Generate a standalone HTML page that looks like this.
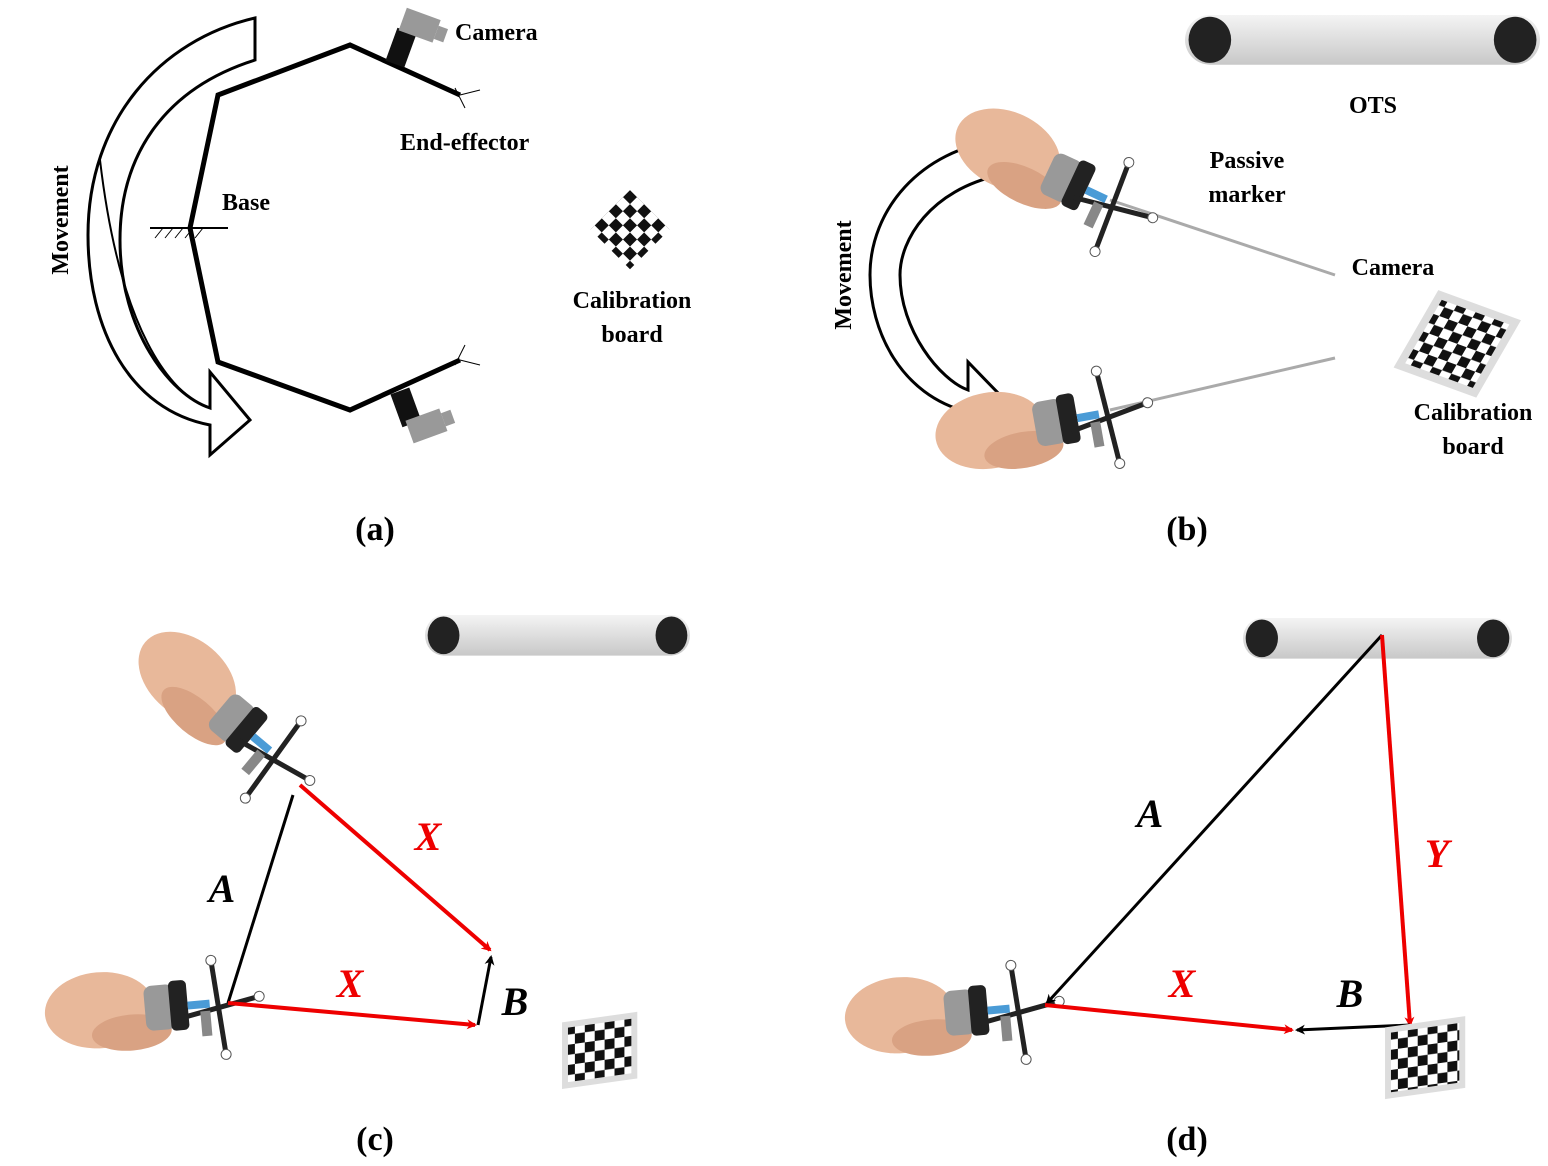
<!DOCTYPE html>
<html><head><meta charset="utf-8"><style>
html,body{margin:0;padding:0;background:#fff;}
svg{display:block;}
text{font-family:"Liberation Serif",serif;font-weight:bold;}
</style></head><body>
<svg width="1548" height="1166" viewBox="0 0 1548 1166" xmlns="http://www.w3.org/2000/svg">
<defs>
<pattern id="chk" width="20" height="20" patternUnits="userSpaceOnUse">
<rect width="20" height="20" fill="#fff"/><rect width="10" height="10" fill="#111"/><rect x="10" y="10" width="10" height="10" fill="#111"/>
</pattern>
<linearGradient id="og" x1="0" y1="0" x2="0" y2="1"><stop offset="0" stop-color="#f4f4f4"/><stop offset="1" stop-color="#c8c8c8"/></linearGradient>
<marker id="ab" markerWidth="10" markerHeight="10" refX="8" refY="5" orient="auto" markerUnits="userSpaceOnUse"><path d="M0,0 L10,5 L0,10 L3,5z" fill="#000"/></marker>
<marker id="ar" markerWidth="10" markerHeight="10" refX="8" refY="5" orient="auto" markerUnits="userSpaceOnUse"><path d="M0,0 L10,5 L0,10 L3,5z" fill="#e00"/></marker>
<g id="ots">
<rect x="0" y="0" width="100" height="14" rx="7" fill="url(#og)"/>
<ellipse cx="7" cy="7" rx="6" ry="6.5" fill="#222"/>
<ellipse cx="93" cy="7" rx="6" ry="6.5" fill="#222"/>
</g>
<g id="tool">
<ellipse cx="-60" cy="-5" rx="55" ry="38" fill="#e8b89a"/>
<ellipse cx="-30" cy="20" rx="40" ry="18" fill="#d9a283"/>
<rect x="-15" y="-25" width="30" height="45" fill="#999" rx="8"/>
<rect x="10" y="-28" width="18" height="50" fill="#222" rx="5"/>
<rect x="28" y="-6" width="22" height="8" fill="#4a9bd6"/>
<line x1="55" y1="-45" x2="62" y2="50" stroke="#222" stroke-width="5"/>
<line x1="20" y1="10" x2="100" y2="-5" stroke="#222" stroke-width="5"/>
<circle cx="55" cy="-45" r="5" fill="#fff" stroke="#555"/>
<circle cx="62" cy="50" r="5" fill="#fff" stroke="#555"/>
<circle cx="100" cy="-5" r="5" fill="#fff" stroke="#555"/>
<rect x="40" y="5" width="10" height="25" fill="#888"/>
</g>
</defs>

<!-- Panel a -->
<g>
<path d="M255,18 L255,60 C160,90 120,160 120,240 C120,330 170,395 210,408 L210,372 L250,420 L210,455 L210,425 C130,410 88,330 88,235 C88,120 160,40 255,18Z" fill="#fff" stroke="#000" stroke-width="3"/>
<path d="M100,160 C120,330 170,395 210,408" fill="none" stroke="#000" stroke-width="2"/>
<polyline points="190,228 218,95 350,45 460,95" fill="none" stroke="#000" stroke-width="5"/>
<polyline points="190,228 218,362 350,410 460,360" fill="none" stroke="#000" stroke-width="5"/>
<line x1="150" y1="228" x2="228" y2="228" stroke="#000" stroke-width="2"/>
<path d="M155,238 l8,-10 M165,238 l8,-10 M175,238 l8,-10 M185,238 l8,-10 M195,238 l8,-10" stroke="#000"/>
<path d="M455,88 l10,20 M460,95 l20,-5" stroke="#000"/>
<path d="M455,365 l10,-20 M460,360 l20,5" stroke="#000"/>
<g transform="translate(400,50) rotate(20)"><rect x="-10" y="-20" width="20" height="35" fill="#111"/><rect x="-8" y="-42" width="36" height="24" fill="#999"/><rect x="28" y="-36" width="10" height="14" fill="#999"/></g>
<g transform="translate(405,405) rotate(-20)"><rect x="-10" y="-15" width="20" height="35" fill="#111"/><rect x="-5" y="15" width="36" height="24" fill="#999"/><rect x="31" y="20" width="10" height="14" fill="#999"/></g>
<text x="455" y="40" font-size="24">Camera</text>
<text x="400" y="150" font-size="24">End-effector</text>
<text x="222" y="210" font-size="24">Base</text>
<text transform="translate(68,220) rotate(-90)" font-size="24" text-anchor="middle">Movement</text>
<rect x="0" y="0" width="56" height="56" fill="url(#chk)" transform="translate(630,190) rotate(45)"/>
<text x="632" y="308" font-size="24" text-anchor="middle">Calibration</text>
<text x="632" y="342" font-size="24" text-anchor="middle">board</text>
<text x="375" y="540" font-size="34" text-anchor="middle">(a)</text>
</g>

<!-- Panel b -->
<g>
<use href="#ots" transform="translate(1185,15) scale(3.55,3.55)"/>
<text x="1373" y="113" font-size="24" text-anchor="middle">OTS</text>
<path d="M1000,140 L1000,175 C930,190 900,240 900,275 C900,330 940,380 968,390 L968,362 L1000,395 L968,425 L968,412 C900,395 870,330 870,275 C870,210 920,150 1000,140Z" fill="#fff" stroke="#000" stroke-width="3"/>
<text transform="translate(851,275) rotate(-90)" font-size="24" text-anchor="middle">Movement</text>
<line x1="1110" y1="200" x2="1335" y2="275" stroke="#aaa" stroke-width="3"/>
<line x1="1110" y1="410" x2="1335" y2="358" stroke="#aaa" stroke-width="3"/>
<use href="#tool" transform="translate(1060,180) rotate(25)"/>
<use href="#tool" transform="translate(1050,425) rotate(-10)"/>
<text x="1247" y="168" font-size="24" text-anchor="middle">Passive</text>
<text x="1247" y="202" font-size="24" text-anchor="middle">marker</text>
<text x="1393" y="275" font-size="24" text-anchor="middle">Camera</text>
<rect width="80" height="80" fill="url(#chk)" stroke="#ddd" stroke-width="8" transform="translate(1440,295) rotate(20) skewX(-10)"/>
<text x="1473" y="420" font-size="24" text-anchor="middle">Calibration</text>
<text x="1473" y="454" font-size="24" text-anchor="middle">board</text>
<text x="1187" y="540" font-size="34" text-anchor="middle">(b)</text>
</g>

<!-- Panel c -->
<g>
<use href="#ots" transform="translate(425,615) scale(2.65,2.9)"/>
<line x1="300" y1="785" x2="490" y2="950" stroke="#ccc" stroke-width="3"/>
<line x1="228" y1="1003" x2="475" y2="1025" stroke="#ccc" stroke-width="3"/>
<use href="#tool" transform="translate(230,720) rotate(40)"/>
<use href="#tool" transform="translate(160,1010) rotate(-5)"/>
<line x1="228" y1="1003" x2="293" y2="795" stroke="#000" stroke-width="3"/>
<line x1="300" y1="785" x2="490" y2="950" stroke="#e00" stroke-width="4" marker-end="url(#ar)"/>
<line x1="228" y1="1003" x2="475" y2="1025" stroke="#e00" stroke-width="4" marker-end="url(#ar)"/>
<line x1="478" y1="1025" x2="491" y2="957" stroke="#000" stroke-width="3" marker-end="url(#ab)"/>
<text x="222" y="902" font-size="40" font-style="italic" text-anchor="middle">A</text>
<text x="428" y="850" font-size="40" font-style="italic" fill="#e00" text-anchor="middle">X</text>
<text x="350" y="997" font-size="40" font-style="italic" fill="#e00" text-anchor="middle">X</text>
<text x="515" y="1015" font-size="40" font-style="italic" text-anchor="middle">B</text>
<rect width="70" height="60" fill="url(#chk)" stroke="#ddd" stroke-width="6" transform="translate(565,1025) rotate(-8) skewX(-8)"/>
<text x="375" y="1150" font-size="34" text-anchor="middle">(c)</text>
</g>

<!-- Panel d -->
<g>
<use href="#ots" transform="translate(1243,618) scale(2.69,2.9)"/>
<line x1="1045" y1="1005" x2="1290" y2="1030" stroke="#ccc" stroke-width="3"/>
<use href="#tool" transform="translate(960,1015) rotate(-5)"/>
<line x1="1382" y1="635" x2="1047" y2="1003" stroke="#000" stroke-width="3" marker-end="url(#ab)"/>
<line x1="1382" y1="635" x2="1410" y2="1025" stroke="#e00" stroke-width="4" marker-end="url(#ar)"/>
<line x1="1045" y1="1005" x2="1292" y2="1030" stroke="#e00" stroke-width="4" marker-end="url(#ar)"/>
<line x1="1410" y1="1025" x2="1297" y2="1030" stroke="#000" stroke-width="3" marker-end="url(#ab)"/>
<text x="1150" y="827" font-size="40" font-style="italic" text-anchor="middle">A</text>
<text x="1437" y="867" font-size="40" font-style="italic" fill="#e00" text-anchor="middle">Y</text>
<text x="1182" y="997" font-size="40" font-style="italic" fill="#e00" text-anchor="middle">X</text>
<text x="1350" y="1007" font-size="40" font-style="italic" text-anchor="middle">B</text>
<rect width="75" height="65" fill="url(#chk)" stroke="#ddd" stroke-width="6" transform="translate(1388,1030) rotate(-8) skewX(-8)"/>
<text x="1187" y="1150" font-size="34" text-anchor="middle">(d)</text>
</g>
</svg>
</body></html>
